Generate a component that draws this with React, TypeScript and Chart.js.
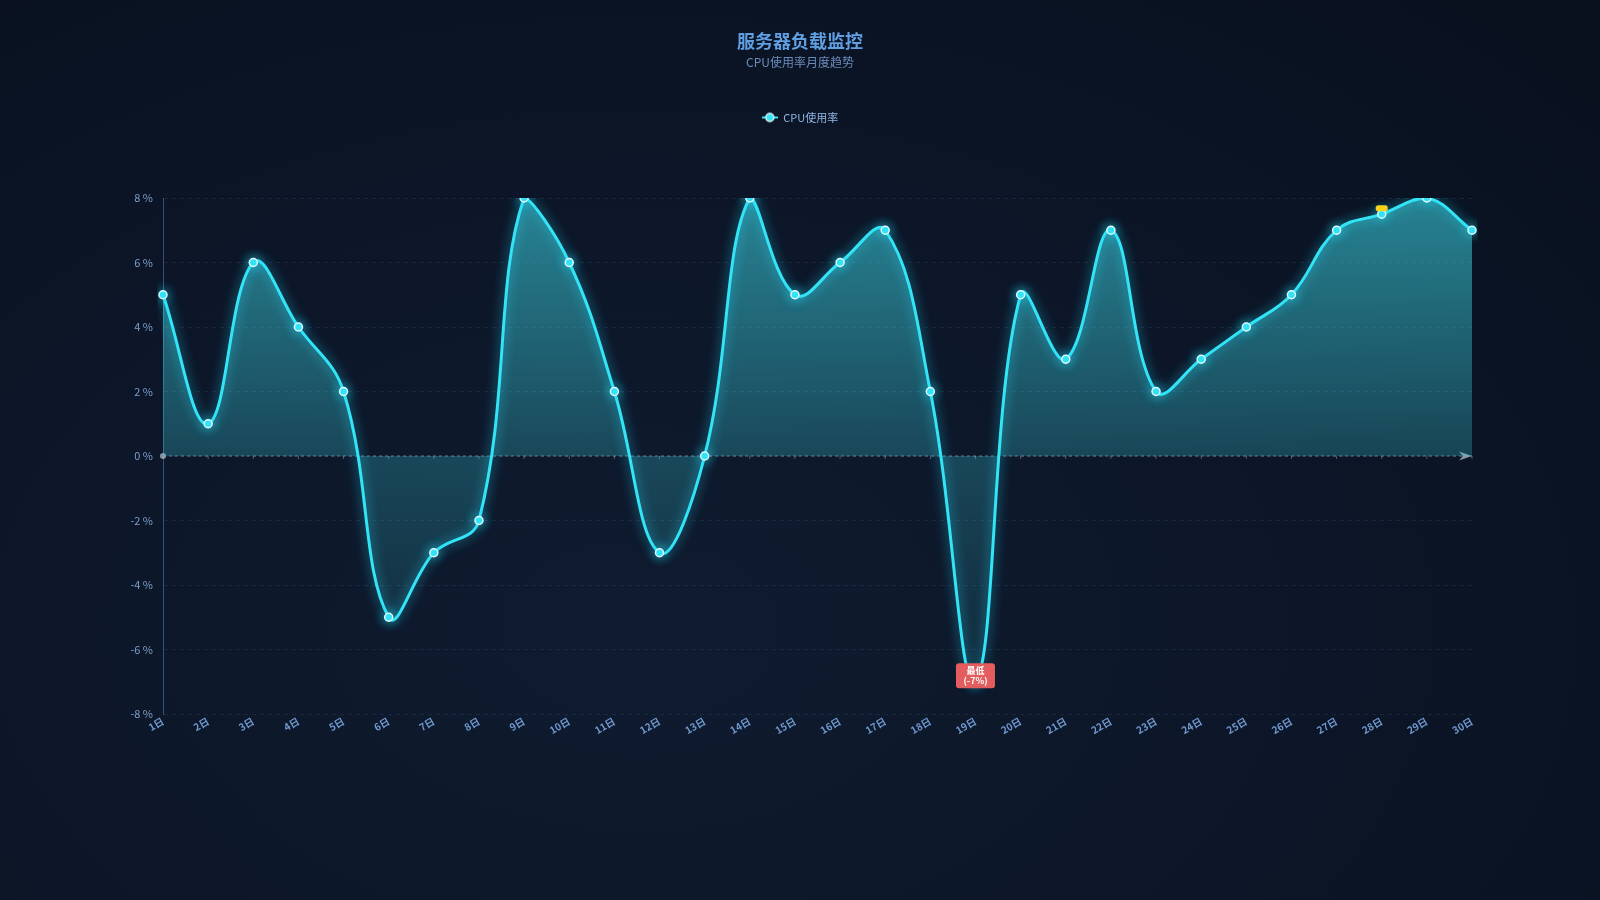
import React, { useEffect, useRef } from "react";
import { Chart, registerables } from "chart.js";

Chart.register(...registerables);

const FONT = '"Noto Sans CJK SC", "Noto Sans", sans-serif';

const chartTitle = "服务器负载监控";
const chartSubtitle = "CPU使用率月度趋势";
const seriesName = "CPU使用率";

const days = [
  "1日", "2日", "3日", "4日", "5日", "6日", "7日", "8日", "9日", "10日",
  "11日", "12日", "13日", "14日", "15日", "16日", "17日", "18日", "19日", "20日",
  "21日", "22日", "23日", "24日", "25日", "26日", "27日", "28日", "29日", "30日",
];
const cpuUsage = [
  5, 1, 6, 4, 2, -5, -3, -2, 8, 6,
  2, -3, 0, 8, 5, 6, 7, 2, -7, 5,
  3, 7, 2, 3, 4, 5, 7, 7.5, 8, 7,
];
const yMin = -8;
const yMax = 8;
const yStep = 2;
const pinnedDay = "28日";

const LINE = "#33e4f7";

// legend icon: short line with a ringed dot, like the series marker
const makeLegendIcon = () => {
  const c = document.createElement("canvas");
  c.width = 16;
  c.height = 12;
  const g = c.getContext("2d")!;
  g.strokeStyle = LINE;
  g.lineWidth = 2;
  g.beginPath();
  g.moveTo(0, 6);
  g.lineTo(16, 6);
  g.stroke();
  g.beginPath();
  g.arc(8, 6, 4, 0, Math.PI * 2);
  g.fillStyle = LINE;
  g.fill();
  g.strokeStyle = "#dffaff";
  g.lineWidth = 1.5;
  g.stroke();
  return c;
};

const glowPlugin = {
  id: "glow",
  beforeDatasetDraw(chart: any) {
    const ctx = chart.ctx;
    ctx.save();
    ctx.shadowColor = "rgba(40,225,255,0.75)";
    ctx.shadowBlur = 12;
  },
  afterDatasetDraw(chart: any) {
    chart.ctx.restore();
  },
};

const zeroAxisPlugin = {
  id: "zeroAxis",
  beforeDatasetsDraw(chart: any) {
    const { ctx, chartArea, scales } = chart;
    const y0 = scales.y.getPixelForValue(0);
    ctx.save();
    ctx.strokeStyle = "rgba(160,180,205,0.6)";
    ctx.lineWidth = 1;
    ctx.setLineDash([3, 3]);
    ctx.beginPath();
    ctx.moveTo(chartArea.left, y0);
    ctx.lineTo(chartArea.right, y0);
    ctx.stroke();
    ctx.setLineDash([]);
    // small ticks per category
    ctx.strokeStyle = "rgba(160,180,205,0.45)";
    days.forEach((_, i) => {
      const x = scales.x.getPixelForValue(i);
      ctx.beginPath();
      ctx.moveTo(x, y0);
      ctx.lineTo(x, y0 + 3);
      ctx.stroke();
    });
    // start dot
    ctx.fillStyle = "rgba(150,160,175,0.9)";
    ctx.beginPath();
    ctx.arc(chartArea.left, y0, 3, 0, Math.PI * 2);
    ctx.fill();
    // arrow
    const r = chartArea.right;
    ctx.fillStyle = "rgba(150,165,185,0.9)";
    ctx.beginPath();
    ctx.moveTo(r, y0);
    ctx.lineTo(r - 13, y0 - 4.5);
    ctx.lineTo(r - 9, y0);
    ctx.lineTo(r - 13, y0 + 4.5);
    ctx.closePath();
    ctx.fill();
    ctx.restore();
  },
};

const markerPlugin = {
  id: "markers",
  afterDatasetsDraw(chart: any) {
    const { ctx, scales } = chart;
    ctx.save();

    // yellow pin over the highlighted day
    const pi = days.indexOf(pinnedDay);
    const px = scales.x.getPixelForValue(pi);
    const py = scales.y.getPixelForValue(cpuUsage[pi]);
    ctx.fillStyle = "#f6d21c";
    ctx.beginPath();
    ctx.roundRect(px - 6, py - 9, 12, 6, 2.5);
    ctx.fill();

    // minimum label
    const minVal = Math.min(...cpuUsage);
    const i = cpuUsage.indexOf(minVal);
    const x = scales.x.getPixelForValue(i);
    const y = scales.y.getPixelForValue(minVal) - 6;
    const w = 39;
    const h = 25;
    ctx.fillStyle = "#e35d5f";
    ctx.beginPath();
    ctx.roundRect(x - w / 2, y - h / 2, w, h, 3);
    ctx.fill();
    ctx.fillStyle = "#ffffff";
    ctx.font = `bold 9px ${FONT}`;
    ctx.textAlign = "center";
    ctx.textBaseline = "middle";
    ctx.fillText("最低", x, y - 5);
    ctx.fillText(`(${minVal}%)`, x, y + 5);
    ctx.restore();
  },
};

const legendSpacingPlugin = {
  id: "legendSpacing",
  beforeInit(chart: any) {
    const origFit = chart.legend.fit;
    chart.legend.fit = function () {
      origFit.bind(chart.legend)();
      this.height = 96;
    };
  },
};

const App: React.FC = () => {
  const canvasRef = useRef<HTMLCanvasElement>(null!);

  useEffect(() => {
    document.body.style.margin = "0";
    const icon = makeLegendIcon();

    const chart = new Chart(canvasRef.current, {
      type: "line",
      data: {
        labels: days,
        datasets: [
          {
            label: seriesName,
            data: cpuUsage,
            borderColor: LINE,
            borderWidth: 3,
            tension: 0.4,
            fill: "origin",
            backgroundColor: (c: any) => {
              const a = c.chart.chartArea;
              if (!a) return "transparent";
              const g = c.chart.ctx.createLinearGradient(0, a.top, 0, a.bottom);
              g.addColorStop(0, "rgba(58,200,215,0.62)");
              g.addColorStop(0.5, "rgba(58,200,215,0.27)");
              g.addColorStop(1, "rgba(58,200,215,0.05)");
              return g;
            },
            pointRadius: 4,
            pointBackgroundColor: LINE,
            pointBorderColor: "#e2fbff",
            pointBorderWidth: 1.5,
          },
        ],
      },
      options: {
        animation: false,
        responsive: true,
        maintainAspectRatio: false,
        layout: { padding: 0 },
        plugins: {
          title: {
            display: true,
            text: chartTitle,
            color: "#5f9fe2",
            font: { family: FONT, size: 18, weight: "bold" },
            padding: { top: 30, bottom: 4 },
          },
          subtitle: {
            display: true,
            text: chartSubtitle,
            color: "#6b8dbb",
            font: { family: FONT, size: 12 },
            padding: { top: 0, bottom: 32 },
          },
          legend: {
            display: true,
            labels: {
              color: "#8fb3df",
              font: { family: FONT, size: 11 },
              usePointStyle: true,
              pointStyleWidth: 16,
              boxHeight: 11,
              padding: 10,
              generateLabels: () => [
                {
                  text: seriesName,
                  pointStyle: icon,
                  fillStyle: LINE,
                  strokeStyle: LINE,
                  lineWidth: 0,
                  fontColor: "#8fb3df",
                  datasetIndex: 0,
                } as any,
              ],
            },
          },
          tooltip: { enabled: false },
        },
        scales: {
          x: {
            grid: { display: false, drawTicks: false },
            border: { display: false },
            ticks: {
              color: "#7099cf",
              font: { family: FONT, size: 10, weight: "bold" },
              minRotation: 30,
              maxRotation: 30,
              padding: 1,
            },
            afterFit: (s: any) => {
              s.height = 186;
            },
          },
          y: {
            min: yMin,
            max: yMax,
            ticks: {
              stepSize: yStep,
              color: "#7f9fca",
              font: { family: FONT, size: 11 },
              padding: 10,
              callback: (v: any) => `${v} %`,
            },
            grid: {
              color: "rgba(70,100,140,0.22)",
              drawTicks: false,
            },
            border: { color: "#34507a", dash: [4, 4], display: true },
            afterFit: (s: any) => {
              s.width = 163;
            },
          },
          // empty right-hand gutter so the title and legend stay centred on the page
          gutter: {
            type: "linear",
            position: "right",
            display: true,
            ticks: { display: false },
            grid: { display: false, drawTicks: false },
            border: { display: false },
            afterFit: (s: any) => {
              s.width = 128;
            },
          },
        },
      },
      plugins: [legendSpacingPlugin, zeroAxisPlugin, glowPlugin, markerPlugin],
    } as any);

    return () => chart.destroy();
  }, []);

  return (
    <div
      style={{
        position: "fixed",
        inset: 0,
        width: "100vw",
        height: "100vh",
        background:
          "radial-gradient(ellipse at 40% 70%, #0f1b2f 0%, #0c1628 50%, #08101d 100%)",
      }}
    >
      <canvas ref={canvasRef} />
    </div>
  );
};

export default App;
